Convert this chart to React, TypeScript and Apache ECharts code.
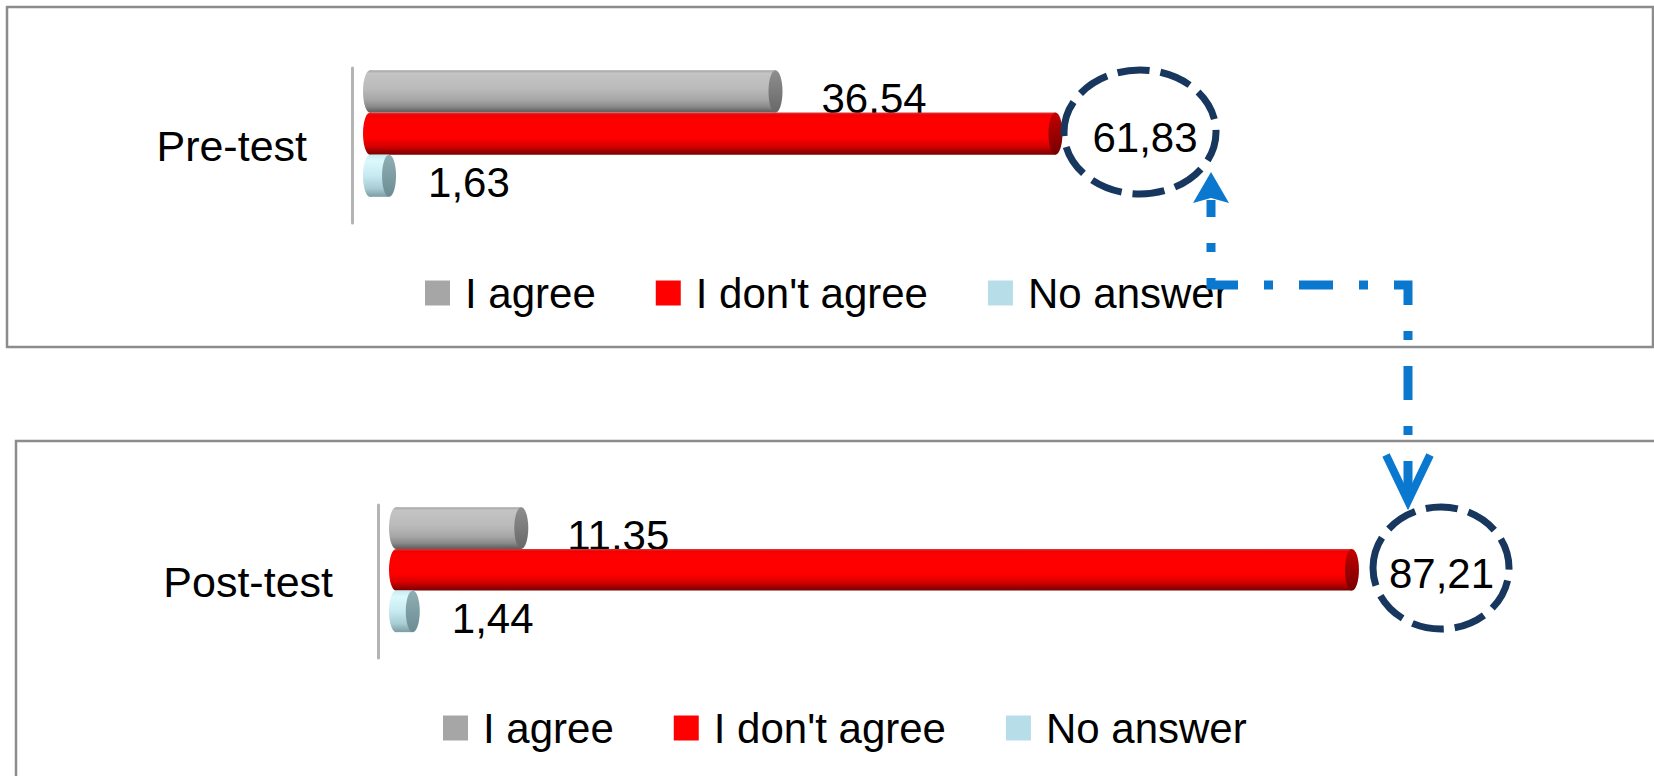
import React, { useEffect, useRef } from "react";
import * as echarts from "echarts";

const categories = ["Pre-test", "Post-test"];
const seriesNames = ["I agree", "I don't agree", "No answer"];
const agreeValues = [36.54, 11.35];
const disagreeValues = [61.83, 87.21];
const noAnswerValues = [1.63, 1.44];

const FONT = '"Liberation Sans", Arial, sans-serif';

type Stops = [number, string][];

const grad = (stops: Stops) =>
  new echarts.graphic.LinearGradient(
    0, 0, 0, 1,
    stops.map(([o, c]) => ({ offset: o, color: c }))
  );

const palettes: { legend: string; body: Stops; cap: Stops }[] = [
  {
    legend: "#a6a6a6",
    body: [[0, "#a4a4a4"], [0.07, "#c4c4c4"], [0.45, "#bababa"], [0.7, "#a6a6a6"], [0.86, "#8a8a8a"], [1, "#5c5c5c"]],
    cap: [[0, "#8e8e8e"], [1, "#686868"]],
  },
  {
    legend: "#ff0000",
    body: [[0, "#d83a3a"], [0.06, "#f20000"], [0.15, "#ff0000"], [0.6, "#ff0000"], [0.8, "#d60000"], [1, "#780000"]],
    cap: [[0, "#c40000"], [1, "#760000"]],
  },
  {
    legend: "#b7dee8",
    body: [[0, "#c4ecf2"], [0.15, "#dcf8fc"], [0.5, "#c6eaf0"], [0.8, "#a8ccd3"], [1, "#7c9ca3"]],
    cap: [[0, "#8fafb5"], [1, "#6c8c93"]],
  },
];

const fmt = (v: number) => v.toFixed(2).replace(".", ",");

function makeCylinder(slot: number, pal: { body: Stops; cap: Stops }, labelDist: number, labelDy: number) {
  return (params: any, api: any) => {
    const v = api.value(0);
    const c = api.value(1);
    const p0 = api.coord([0, c]);
    const p1 = api.coord([v, c]);
    const band = api.size([0, 1])[1];
    const h = band * 0.272;
    const yc = p0[1] - band * 0.077 + slot * h;
    const top = yc - h / 2;
    const rx = 7;
    const xs = p0[0] - 15;
    const xe = p1[0] - rx;
    return {
      type: "group",
      children: [
        { type: "ellipse", shape: { cx: xs + rx, cy: yc, rx, ry: h / 2 }, style: { fill: grad(pal.body) } },
        { type: "rect", shape: { x: xs + rx, y: top, width: Math.max(0, xe - xs - rx), height: h }, style: { fill: grad(pal.body) } },
        { type: "ellipse", shape: { cx: xe, cy: yc, rx, ry: h / 2 }, style: { fill: grad(pal.cap) } },
        {
          type: "text",
          x: p1[0] + labelDist,
          y: yc + labelDy,
          style: {
            text: fmt(v),
            font: `42px ${FONT}`,
            fill: "#000",
            align: "left",
            verticalAlign: "middle",
            textAlign: "left",
            textVerticalAlign: "middle",
          },
        },
      ],
    };
  };
}

const valueSets = [agreeValues, disagreeValues, noAnswerValues];
const labelDists = [39, 30, 32];
const labelDys = [7, 4, 7];

export default function App() {
  const ref = useRef<HTMLDivElement>(null);
  useEffect(() => {
    if (!ref.current) return;
    const chart = echarts.init(ref.current, null, { renderer: "svg" });

    const series: any[] = [];
    [0, 1].forEach((g) => {
      seriesNames.forEach((name, i) => {
        series.push({
          type: "custom",
          name,
          xAxisIndex: g,
          yAxisIndex: g,
          data: [[valueSets[i][g], 0]],
          encode: { x: 0, y: 1 },
          itemStyle: { color: palettes[i].legend },
          renderItem: makeCylinder(i - 1, palettes[i], labelDists[i], labelDys[i]),
        });
      });
    });

    const legendBase = {
      data: seriesNames,
      icon: "rect",
      itemWidth: 25,
      itemHeight: 25,
      itemGap: 60,
      padding: 0,
      textStyle: { fontSize: 42, fontFamily: FONT, color: "#000", lineHeight: 44, padding: [0, 0, 0, 10] },
    };

    const yAxisBase = {
      type: "category",
      inverse: true,
      offset: 26,
      axisLine: { show: true, onZero: false, lineStyle: { color: "#b4b4b4", width: 3 } },
      axisTick: { show: false },
      splitLine: { show: false },
      axisLabel: { fontSize: 43, fontFamily: FONT, color: "#000", margin: 45, padding: [12, 0, 0, 0] },
    };

    const arrowColor = "#0a78cf";
    const navy = "#17375e";

    chart.setOption({
      animation: false,
      backgroundColor: "#ffffff",
      grid: [
        { left: 378, top: 68, width: 1107, height: 155 },
        { left: 404, top: 505, width: 1095, height: 153 },
      ],
      xAxis: [
        { gridIndex: 0, type: "value", min: 0, max: 100, show: false },
        { gridIndex: 1, type: "value", min: 0, max: 100, show: false },
      ],
      yAxis: [
        { ...yAxisBase, gridIndex: 0, data: [categories[0]] },
        { ...yAxisBase, gridIndex: 1, data: [categories[1]] },
      ],
      legend: [
        { ...legendBase, left: 425, top: 271 },
        { ...legendBase, left: 443, top: 706 },
      ],
      graphic: [
        { type: "rect", z: -1, shape: { x: 7, y: 7, width: 1646, height: 340 }, style: { fill: "none", stroke: "#8c8c8c", lineWidth: 2.5 } },
        { type: "rect", z: -1, shape: { x: 16, y: 441, width: 1700, height: 400 }, style: { fill: "none", stroke: "#8c8c8c", lineWidth: 2.5 } },
        { type: "ellipse", z: 10, shape: { cx: 1140, cy: 132, rx: 76, ry: 62 }, style: { fill: "none", stroke: navy, lineWidth: 7, lineDash: [32, 11] } },
        { type: "ellipse", z: 10, shape: { cx: 1441, cy: 568, rx: 68, ry: 61 }, style: { fill: "none", stroke: navy, lineWidth: 7, lineDash: [32, 11] } },
        {
          type: "polyline",
          z: 10,
          shape: { points: [[1211, 200], [1211, 285], [1408, 285], [1408, 503]] },
          style: { fill: null, stroke: arrowColor, lineWidth: 9, lineDash: [34, 26, 9, 26], lineDashOffset: 17 },
        },
        { type: "polygon", z: 10, shape: { points: [[1211, 172], [1229, 203], [1211, 198], [1193, 203]] }, style: { fill: arrowColor } },
        {
          type: "polyline",
          z: 10,
          shape: { points: [[1386, 455], [1408, 501], [1430, 455]] },
          style: { fill: null, stroke: arrowColor, lineWidth: 8 },
        },
      ],
      series,
    });
    return () => chart.dispose();
  }, []);
  return <div ref={ref} style={{ position: "absolute", left: 0, top: 0, width: 1654, height: 776, background: "#fff" }} />;
}
